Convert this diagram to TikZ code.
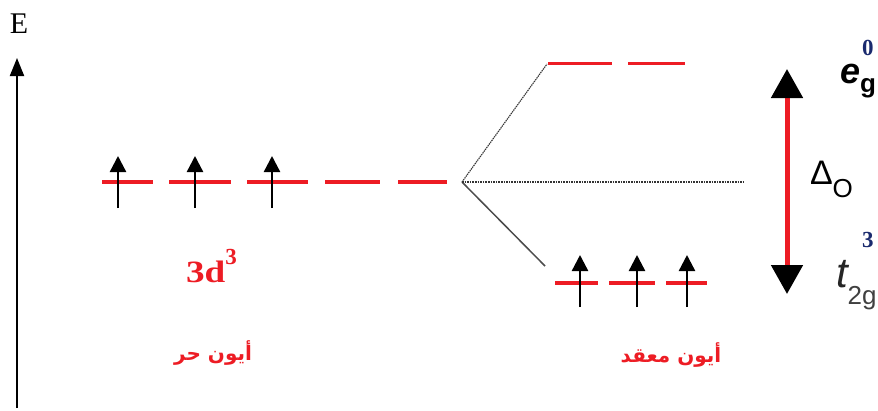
\documentclass[tikz,border=0pt]{standalone}
\usepackage{fontspec}
\setmainfont{Liberation Serif}
\setsansfont{Liberation Sans}
\newfontfamily\arabicfont[Script=Arabic]{DejaVu Sans}
\TeXXeTstate=1
\usetikzlibrary{arrows.meta}
\definecolor{lvlred}{HTML}{ED1C24}
\definecolor{supblue}{HTML}{1A2A6E}
\begin{document}
\begin{tikzpicture}[x=1pt,y=-1pt,
  lvl/.style={draw=lvlred,line width=4.5pt},
  lvlthin/.style={draw=lvlred,line width=3pt},
  spin/.style={draw=black,line width=2.4pt,-{Triangle[length=16pt,width=16pt]}},
  axisarrow/.style={draw=black,line width=2pt,-{Triangle[length=18pt,width=14pt]}},
  gap/.style={draw=lvlred,line width=5pt,{Triangle[length=29pt,width=31pt,color=black]}-{Triangle[length=29pt,width=31pt,color=black]}},
  corr/.style={draw=black!80,line width=1.1pt},
  lab/.style={inner sep=0pt,outer sep=0pt}]
\clip (0,0) rectangle (878,410);
\fill[white] (0,0) rectangle (878,410);

% energy axis
\coordinate (axb) at (17,408);
\coordinate (axt) at (17,58);
\draw[axisarrow] (axb) -- (axt);
\node[lab,font=\fontsize{30}{30}\selectfont] (E) at (19,24) {E};

% free ion levels
\foreach \a/\b in {102/153,169/231,247/308,325/380,398/447}
  \draw[lvl] (\a,182) -- (\b,182);
\foreach \x [count=\i] in {118,195,272}{
  \coordinate (fb\i) at (\x,208);
  \coordinate (ft\i) at (\x,156);
  \draw[spin] (fb\i) -- (ft\i);
}

% correlation lines
\coordinate (split) at (462,182);
\coordinate (egl) at (547,64);
\coordinate (t2l) at (545,266);
\coordinate (mid) at (745,182);
\draw[corr,dash pattern=on 1.4pt off 0.8pt] (split) -- (egl);
\draw[draw=black!70,line width=1.5pt] (split) -- (t2l);
\draw[corr,dash pattern=on 1.6pt off 1pt] (split) -- (mid);

% e_g levels
\foreach \a/\b in {548/612,628/685}
  \draw[lvlthin] (\a,63) -- (\b,63);

% t2g levels
\foreach \a/\b in {555/598,609/655,666/707}
  \draw[lvl] (\a,283) -- (\b,283);
\foreach \x [count=\i] in {580,637,687}{
  \coordinate (cb\i) at (\x,307);
  \coordinate (ct\i) at (\x,255);
  \draw[spin] (cb\i) -- (ct\i);
}

% splitting arrow
\coordinate (gt) at (787,69);
\coordinate (gb) at (787,294);
\draw[gap] (gb) -- (gt);

% labels
\node[lab,anchor=base west,font=\sffamily\fontsize{34}{34}\selectfont] (delta) at (810,184)
  {Δ\raisebox{-13pt}{\fontsize{26}{26}\selectfont O}};

\node[lab,anchor=base west,font=\sffamily\bfseries\itshape\fontsize{36}{36}\selectfont] (eg) at (840,83)
  {e\raisebox{-9pt}{\upshape\fontsize{26}{26}\selectfont g}};
\node[lab,anchor=base west,text=supblue,font=\bfseries\fontsize{23}{23}\selectfont] (eg0) at (862,55) {0};

\node[lab,anchor=base west,font=\sffamily\itshape\fontsize{42}{42}\selectfont,text=black!85] (t2g) at (836,287)
  {t\raisebox{-17pt}{\upshape\mdseries\fontsize{26}{26}\selectfont\color{black!75}2g}};
\node[lab,anchor=base west,text=supblue,font=\bfseries\fontsize{23}{23}\selectfont] (t3) at (862,247) {3};

\node[lab,anchor=base west,text=lvlred,font=\bfseries\fontsize{31}{31}\selectfont] (d3) at (186,282)
  {\scalebox{1.2}[1]{3d}\raisebox{18pt}{\bfseries\fontsize{23}{23}\selectfont 3}};

\node[lab,text=lvlred,font=\arabicfont\bfseries\fontsize{20}{20}\selectfont] (free) at (213,353) {\beginR أيون حر\endR};
\node[lab,text=lvlred,font=\arabicfont\bfseries\fontsize{20}{20}\selectfont] (cplx) at (671,355) {\beginR أيون معقد\endR};
\end{tikzpicture}
\end{document}
